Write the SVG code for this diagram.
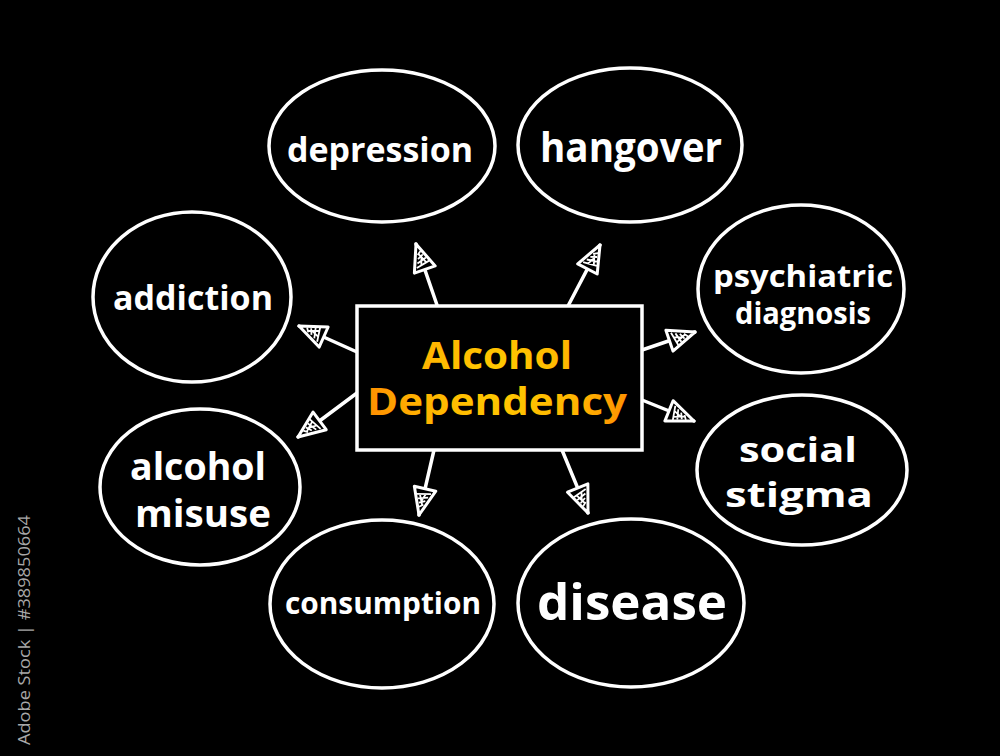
<svg xmlns="http://www.w3.org/2000/svg" width="1000" height="756" viewBox="0 0 1000 756">
<defs>
<style>
.bubble{fill:none;stroke:#fff;stroke-width:3.5}
.lbl{fill:#fff;font-family:"Open Sans","DejaVu Sans",sans-serif;font-weight:700;text-anchor:middle}
.conn{stroke:#fff;stroke-width:3.5;fill:none;stroke-linecap:round}
.title{font-family:"Open Sans","DejaVu Sans",sans-serif;font-weight:700;text-anchor:middle;fill:url(#og)}
</style>
<radialGradient id="og" gradientUnits="userSpaceOnUse" cx="500" cy="380" r="140">
<stop offset="0" stop-color="#FFCC00"/>
<stop offset="0.6" stop-color="#FFB300"/>
<stop offset="1" stop-color="#FF8A00"/>
</radialGradient>
<marker id="ah" markerUnits="userSpaceOnUse" viewBox="0 0 32 26" refX="30" refY="13" markerWidth="32" markerHeight="26" orient="auto">
<path d="M3,2 L30,13 L3,24 Z" fill="#000" stroke="#fff" stroke-width="3" stroke-linejoin="round"/>
<path d="M7,6 L10,20 M11,8 L14,18 M15,10 L18,16 M8,11 L16,14 M9,17 L20,12 M19,11 L22,15" stroke="#fff" stroke-width="1.8" fill="none"/>
</marker>
</defs>
<rect width="1000" height="756" fill="#000"/>

<g id="connectors">
<line class="conn" x1="437" y1="305" x2="416" y2="244" marker-end="url(#ah)"/>
<line class="conn" x1="568" y1="306" x2="600" y2="245" marker-end="url(#ah)"/>
<line class="conn" x1="357" y1="352" x2="299" y2="326" marker-end="url(#ah)"/>
<line class="conn" x1="357" y1="393" x2="298" y2="437" marker-end="url(#ah)"/>
<line class="conn" x1="642" y1="350" x2="695" y2="332" marker-end="url(#ah)"/>
<line class="conn" x1="642" y1="400" x2="694" y2="421" marker-end="url(#ah)"/>
<line class="conn" x1="434" y1="450" x2="419" y2="515" marker-end="url(#ah)"/>
<line class="conn" x1="562" y1="450" x2="588" y2="513" marker-end="url(#ah)"/>
</g>

<g id="center">
<rect x="357" y="306" width="285" height="144" fill="#000" stroke="#fff" stroke-width="3.5"/>
<text class="title" x="497" y="369" font-size="37" textLength="150" lengthAdjust="spacingAndGlyphs">Alcohol</text>
<text class="title" x="497" y="415" font-size="37" textLength="260" lengthAdjust="spacingAndGlyphs">Dependency</text>
</g>

<g id="depression">
<ellipse class="bubble" cx="382" cy="146" rx="113" ry="76"/>
<text class="lbl" x="380" y="162" font-size="34" textLength="186" lengthAdjust="spacingAndGlyphs">depression</text>
</g>
<g id="hangover">
<ellipse class="bubble" cx="630" cy="145" rx="112" ry="77"/>
<text class="lbl" x="631" y="162" font-size="42" textLength="182" lengthAdjust="spacingAndGlyphs">hangover</text>
</g>
<g id="addiction">
<ellipse class="bubble" cx="192" cy="297" rx="99" ry="85"/>
<text class="lbl" x="193" y="310" font-size="34" textLength="160" lengthAdjust="spacingAndGlyphs">addiction</text>
</g>
<g id="psychiatric">
<ellipse class="bubble" cx="801" cy="289" rx="103" ry="84"/>
<text class="lbl" x="803" y="287" font-size="30" textLength="180" lengthAdjust="spacingAndGlyphs">psychiatric</text>
<text class="lbl" x="803" y="324" font-size="30" textLength="136" lengthAdjust="spacingAndGlyphs">diagnosis</text>
</g>
<g id="misuse">
<ellipse class="bubble" cx="200" cy="487" rx="100" ry="78"/>
<text class="lbl" x="198" y="480" font-size="37" textLength="136" lengthAdjust="spacingAndGlyphs">alcohol</text>
<text class="lbl" x="203" y="527" font-size="37" textLength="136" lengthAdjust="spacingAndGlyphs">misuse</text>
</g>
<g id="stigma">
<ellipse class="bubble" cx="802" cy="470" rx="105" ry="75"/>
<text class="lbl" x="798" y="462" font-size="34" textLength="118" lengthAdjust="spacingAndGlyphs">social</text>
<text class="lbl" x="799" y="507" font-size="34" textLength="148" lengthAdjust="spacingAndGlyphs">stigma</text>
</g>
<g id="consumption">
<ellipse class="bubble" cx="382" cy="604" rx="112" ry="84"/>
<text class="lbl" x="383" y="614" font-size="30" textLength="196" lengthAdjust="spacingAndGlyphs">consumption</text>
</g>
<g id="disease">
<ellipse class="bubble" cx="631" cy="603" rx="113" ry="84"/>
<text class="lbl" x="632" y="620" font-size="50" textLength="190" lengthAdjust="spacingAndGlyphs">disease</text>
</g>

<text transform="translate(30,745) rotate(-90)" font-family="Open Sans, DejaVu Sans, sans-serif" font-size="17" fill="#a8a8a8" textLength="230" lengthAdjust="spacingAndGlyphs">Adobe Stock | #389850664</text>
</svg>
